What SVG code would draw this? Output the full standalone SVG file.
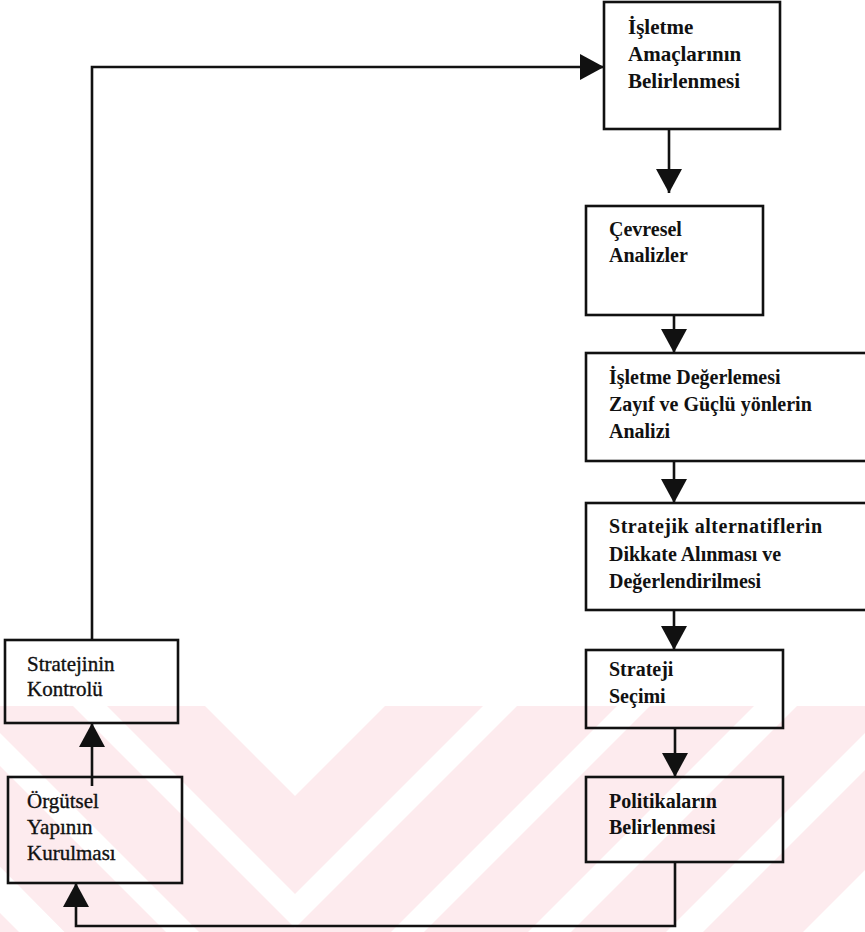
<svg xmlns="http://www.w3.org/2000/svg" width="865" height="932" viewBox="0 0 865 932">
<defs>
<style>
.box{fill:#fff;fill-opacity:0;stroke:#111;stroke-width:2.6}
.c{fill:none;stroke:#111;stroke-width:2.6}
.t{font-family:"Liberation Serif","Times New Roman",serif;font-size:20px;font-weight:bold;fill:#111}
.t1{font-size:21px}
.tl{font-weight:normal;font-size:21px;stroke:#111;stroke-width:0.35}
.wm{fill:#fdebee}
</style>
<marker id="ah" viewBox="0 0 24 26" refX="24" refY="13" markerWidth="24" markerHeight="26" markerUnits="userSpaceOnUse" orient="auto">
<path d="M0,0 L24,13 L0,26 z" fill="#111"/>
</marker>
<clipPath id="wmclip"><rect x="0" y="706" width="865" height="226"/></clipPath>
</defs>
<rect width="865" height="932" fill="#fff"/>
<g id="watermark" clip-path="url(#wmclip)">
<polygon class="wm" points="107,706 295,894 483,706 385,706 295,796 205,706"/>
<polygon class="wm" points="-27,706 295,1028 617,706 517,706 295,928 73,706"/>
<polygon class="wm" points="-159,706 295,1165 754,706 650,706 295,1061 -60,706"/>
<polygon class="wm" points="-302,706 295,1303 892,706 797,706 295,1208 -207,706"/>
<polygon class="wm" points="-439,706 295,1440 1029,706 929,706 295,1340 -339,706"/>
</g>
<g id="connectors">
<path class="c" d="M669,129 V193" marker-end="url(#ah)"/>
<path class="c" d="M674,315 V353" marker-end="url(#ah)"/>
<path class="c" d="M674,461 V503" marker-end="url(#ah)"/>
<path class="c" d="M674,610 V650" marker-end="url(#ah)"/>
<path class="c" d="M675,728 V777" marker-end="url(#ah)"/>
<path class="c" d="M675,862 V926 H76 V883" marker-end="url(#ah)"/>
<path class="c" d="M92,786 V723" marker-end="url(#ah)"/>
<path class="c" d="M92,640 V67 H604" marker-end="url(#ah)"/>
</g>
<g id="n1">
<rect class="box" x="604" y="2" width="176" height="127"/>
<text class="t t1" x="628" y="34">İşletme</text>
<text class="t t1" x="628" y="61">Amaçlarının</text>
<text class="t t1" x="628" y="88">Belirlenmesi</text>
</g>
<g id="n2">
<rect class="box" x="586" y="206" width="177" height="109"/>
<text class="t" x="609" y="236">Çevresel</text>
<text class="t" x="609" y="262">Analizler</text>
</g>
<g id="n3">
<rect class="box" x="586" y="353" width="290" height="108"/>
<text class="t" x="609" y="384">İşletme Değerlemesi</text>
<text class="t" x="609" y="411">Zayıf ve Güçlü yönlerin</text>
<text class="t" x="609" y="438">Analizi</text>
</g>
<g id="n4">
<rect class="box" x="586" y="503" width="290" height="107"/>
<text class="t" x="609" y="533" textLength="213">Stratejik alternatiflerin</text>
<text class="t" x="609" y="561">Dikkate Alınması ve</text>
<text class="t" x="609" y="588">Değerlendirilmesi</text>
</g>
<g id="n5">
<rect class="box" x="586" y="650" width="197" height="78"/>
<text class="t" x="609" y="676">Strateji</text>
<text class="t" x="609" y="703">Seçimi</text>
</g>
<g id="n6">
<rect class="box" x="586" y="777" width="197" height="85"/>
<text class="t" x="609" y="808">Politikaların</text>
<text class="t" x="609" y="834">Belirlenmesi</text>
</g>
<g id="n7">
<rect class="box" x="5" y="640" width="173" height="83"/>
<text class="t tl" x="27" y="671">Stratejinin</text>
<text class="t tl" x="27" y="696">Kontrolü</text>
</g>
<g id="n8">
<rect class="box" x="8" y="777" width="174" height="106"/>
<text class="t tl" x="27" y="808">Örgütsel</text>
<text class="t tl" x="27" y="834">Yapının</text>
<text class="t tl" x="27" y="860">Kurulması</text>
</g>
</svg>
